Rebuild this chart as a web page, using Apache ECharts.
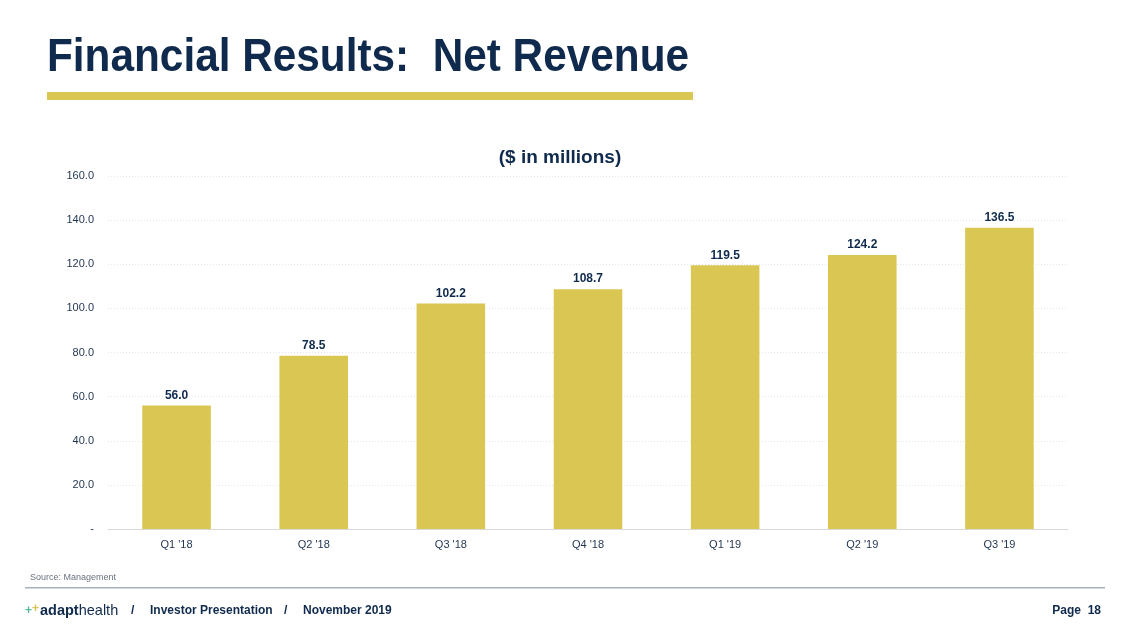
<!DOCTYPE html>
<html><head><meta charset="utf-8">
<script src="https://cdn.jsdelivr.net/npm/echarts@6/dist/echarts.min.js"></script>
<style>html,body{margin:0;padding:0;background:#fff}#c{width:1129px;height:635px}</style>
</head><body><div id="c"></div>
<script>
const categories = ["Q1 '18","Q2 '18","Q3 '18","Q4 '18","Q1 '19","Q2 '19","Q3 '19"];
const revenue = [56.0, 78.5, 102.2, 108.7, 119.5, 124.2, 136.5];
const yTicks = [0, 20, 40, 60, 80, 100, 120, 140, 160];

const navy = '#0f2a4c';
const gold = '#dac652';
const F = '"Liberation Sans", Arial, sans-serif';
const chart = echarts.init(document.getElementById('c'));
chart.setOption({
  animation: false,
  textStyle: { fontFamily: 'Liberation Sans, Arial, sans-serif' },
  grid: { left: 108, right: 61, top: 176, bottom: 106 },
  xAxis: {
    type: 'category', data: categories,
    axisLine: { lineStyle: { color: '#d9d9d9' } },
    axisTick: { show: false },
    axisLabel: { color: '#1f3350', fontSize: 11, margin: 10 }
  },
  yAxis: {
    type: 'value', min: yTicks[0], max: yTicks[yTicks.length - 1], interval: 20,
    axisLine: { show: false }, axisTick: { show: false },
    splitLine: { lineStyle: { color: '#e6e6e6', type: [1, 2] } },
    axisLabel: { color: '#1f3350', fontSize: 11, margin: 14,
      formatter: v => v === 0 ? '-' : v.toFixed(1) }
  },
  series: [{
    type: 'bar', data: revenue, barWidth: '50%',
    itemStyle: { color: gold },
    label: { show: true, position: 'top', distance: 4, color: navy, fontWeight: 'bold', fontSize: 12,
      formatter: p => p.value.toFixed(1) }
  }],
  graphic: [
    { type: 'text', x: 47, y: 58, scaleX: 0.92, style: { x: 0, y: 0, text: 'Financial Results:  Net Revenue', verticalAlign: 'middle', fill: navy, font: 'bold 46px ' + F } },
    { type: 'rect', shape: { x: 47, y: 92, width: 646, height: 8 }, style: { fill: gold } },
    { type: 'text', style: { x: 560, y: 158, text: '($ in millions)', align: 'center', verticalAlign: 'middle', fill: navy, font: 'bold 19px ' + F } },
    { type: 'text', style: { x: 30, y: 578, text: 'Source: Management', verticalAlign: 'middle', fill: '#6b7280', font: '9px ' + F } },
    { type: 'rect', shape: { x: 25, y: 587, width: 1080, height: 1.5 }, style: { fill: '#a8b0b8' } },
    { type: 'text', style: { x: 25, y: 611, verticalAlign: 'middle', text: '{p1|+}{p2|+}{b|adapt}{r|health}',
      rich: {
        p1: { fill: '#5bb89a', font: 'bold 12px ' + F },
        p2: { fill: '#d8c350', font: 'bold 12px ' + F, padding: [0, 1, 4, 0] },
        b: { fill: navy, font: 'bold 14.5px ' + F },
        r: { fill: navy, font: '14.5px ' + F }
      } } },
    { type: 'text', style: { x: 131, y: 611, verticalAlign: 'middle', text: '/', fill: navy, font: 'bold 12px ' + F } },
    { type: 'text', style: { x: 150, y: 611, verticalAlign: 'middle', text: 'Investor Presentation', fill: navy, font: 'bold 12px ' + F } },
    { type: 'text', style: { x: 284, y: 611, verticalAlign: 'middle', text: '/', fill: navy, font: 'bold 12px ' + F } },
    { type: 'text', style: { x: 303, y: 611, verticalAlign: 'middle', text: 'November 2019', fill: navy, font: 'bold 12px ' + F } },
    { type: 'text', style: { x: 1101, y: 611, align: 'right', verticalAlign: 'middle', text: 'Page  18', fill: navy, font: 'bold 12px ' + F } }
  ]
});
</script></body></html>
